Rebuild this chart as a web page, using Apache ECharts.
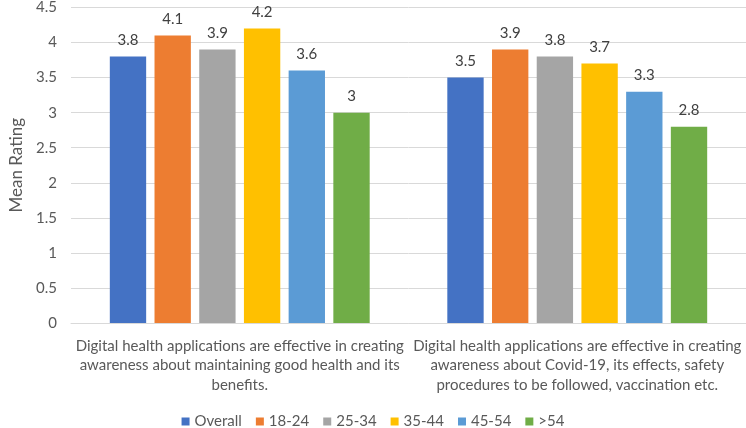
<!DOCTYPE html>
<html><head><meta charset="utf-8">
<script src="https://cdn.jsdelivr.net/npm/echarts@6/dist/echarts.min.js"></script>
<style>html,body{margin:0;padding:0;background:#fff}#c{width:746px;height:428px}</style>
</head><body><div id="c"></div>
<script>
const categories = [
  "Digital health applications are effective in creating\nawareness about maintaining good health and its\nbenefits.",
  "Digital health applications are effective in creating\nawareness about Covid-19, its effects, safety\nprocedures to be followed, vaccination etc."
];
const seriesNames = ["Overall", "18-24", "25-34", "35-44", "45-54", ">54"];
const overall = [3.8, 3.5];
const age18_24 = [4.1, 3.9];
const age25_34 = [3.9, 3.8];
const age35_44 = [4.2, 3.7];
const age45_54 = [3.6, 3.3];
const age54plus = [3.0, 2.8];
const colors = ["#4472C4", "#ED7D31", "#A5A5A5", "#FFC000", "#5B9BD5", "#70AD47"];
const values = [overall, age18_24, age25_34, age35_44, age45_54, age54plus];
const FONT = "Lato";
const chart = echarts.init(document.getElementById('c'));
chart.setOption({
  animation: false,
  textStyle: {fontFamily: FONT},
  grid: {left: 58, right: 0, top: 6, bottom: 105},
  legend: {
    bottom: -6, left: 'center', itemWidth: 8, itemHeight: 8, itemGap: 14,
    icon: 'rect',
    textStyle: {color: '#595959', fontSize: 15, fontFamily: FONT},
    data: seriesNames
  },
  xAxis: {
    type: 'category', data: categories,
    axisTick: {show: false},
    axisLine: {lineStyle: {color: '#D9D9D9'}},
    axisLabel: {color: '#595959', fontSize: 15, lineHeight: 19.5, margin: 13, interval: 0, fontFamily: FONT}
  },
  yAxis: {
    type: 'value', min: 0, max: 4.5, interval: 0.5,
    name: 'Mean Rating', nameLocation: 'middle', nameGap: 46, nameRotate: 90,
    nameTextStyle: {color: '#595959', fontSize: 17, fontFamily: FONT},
    axisLabel: {color: '#595959', fontSize: 15, margin: 14, fontFamily: FONT},
    splitLine: {lineStyle: {color: '#D9D9D9'}},
    axisLine: {show: false}
  },
  series: seriesNames.map((n, i) => ({
    name: n, type: 'bar', data: values[i],
    barGap: '23%', barCategoryGap: '23%',
    itemStyle: {color: colors[i]},
    label: {show: true, position: 'top', distance: 9, color: '#404040', fontSize: 15, fontFamily: FONT}
  }))
});
</script></body></html>
